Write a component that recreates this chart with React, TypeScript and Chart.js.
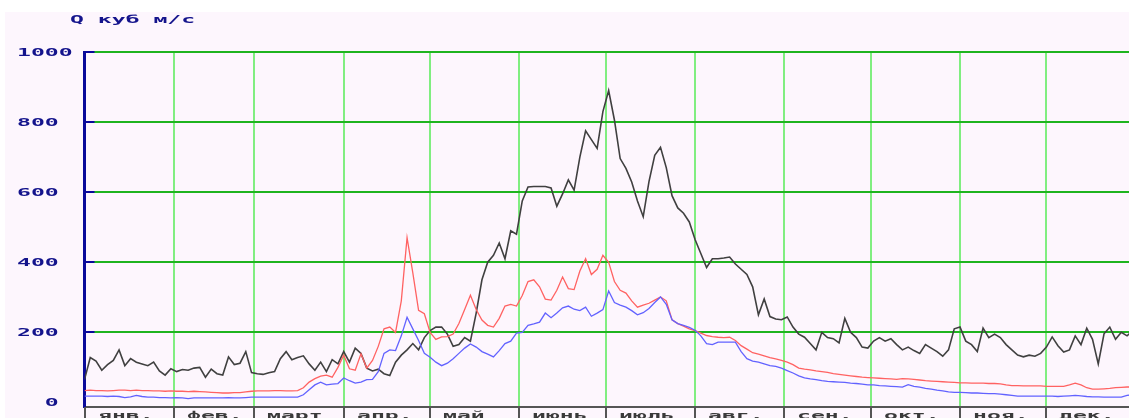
import React, { useEffect, useRef } from "react";
import { Chart, registerables } from "chart.js";

Chart.register(...registerables);

// ---- data ----
const Y_TITLE = "Q куб м/с";
const MONTH_LABELS = ["янв.", "фев.", "март", "апр.", "май", "июнь", "июль", "авг.", "сен.", "окт.", "ноя.", "дек."];
const MONTH_STARTS = [0, 31, 59, 90, 120, 151, 181, 212, 243, 273, 304, 334, 365];
const Y_TICKS = [0, 200, 400, 600, 800, 1000];

// day of year for each sample (every second day)
const DAYS: number[] = Array.from({ length: 183 }, (_, i) => i * 2);

const BLACK = [
  65, 128, 118, 92, 108, 120, 150, 105, 125, 115,
  110, 105, 115, 90, 78, 96, 88, 94, 92, 98,
  100, 72, 95, 82, 78, 130, 108, 112, 145, 85,
  82, 80, 85, 88, 125, 145, 122, 128, 133, 110,
  92, 115, 88, 122, 110, 145, 115, 155, 140, 98,
  90, 95, 82, 77, 115, 135, 150, 168, 150, 185,
  205, 215, 215, 195, 160, 165, 185, 175, 255, 350,
  400, 420, 455, 410, 490, 480, 575, 615, 616, 616,
  616, 612, 560, 595, 635, 606, 700, 775, 750, 725,
  830, 890, 806, 696, 668, 629, 575, 530, 630, 705,
  728, 670, 590, 555, 540, 515, 465, 425, 385, 410,
  410, 412, 415, 395, 380, 365, 330, 250, 295, 245,
  238, 236, 244, 215, 195, 186, 168, 150, 200, 185,
  182, 170, 240, 200, 185, 158, 155, 175, 185, 175,
  182, 165, 150, 158, 148, 140, 165, 155, 145, 132,
  150, 210, 215, 175, 165, 145, 212, 185, 195, 185,
  165, 150, 135, 130, 135, 132, 140, 158, 187, 162,
  144, 150, 190, 165, 212, 180, 110, 196, 215, 180,
  200, 190, 205,
];

const RED = [
  34, 35, 34, 34, 33, 34, 35, 35, 34, 35,
  34, 34, 33, 33, 32, 33, 32, 32, 31, 32,
  31, 30, 29, 28, 27, 27, 28, 28, 30, 32,
  33, 33, 33, 34, 34, 33, 33, 34, 42, 58,
  68, 75, 78, 72, 100, 135, 96, 92, 139, 98,
  120, 160, 210, 215, 200, 290, 470, 370, 263, 253,
  200, 180, 187, 188, 195, 225, 265, 306, 265, 235,
  220, 215, 240, 275, 280, 275, 305, 345, 350, 330,
  295, 292, 320, 358, 325, 322, 375, 410, 365, 380,
  420, 400, 345, 320, 312, 290, 272, 278, 283, 292,
  301, 290, 236, 225, 218, 210, 205, 198, 191, 188,
  186, 185, 186, 177, 162, 152, 142, 138, 133, 128,
  124, 120, 115, 108, 98, 95, 93, 90, 88, 86,
  82, 80, 78, 76, 74, 72, 71, 70, 69, 68,
  67, 66, 68, 67, 66, 64, 62, 61, 60, 59,
  58, 57, 56, 56, 55, 55, 55, 54, 54, 53,
  50, 48, 48, 47, 47, 47, 47, 46, 46, 46,
  46, 50, 55, 50, 42, 38, 38, 39, 40, 42,
  43, 44, 44,
];

const BLUE = [
  18, 18, 18, 18, 17, 18, 17, 14, 16, 20,
  17, 15, 15, 14, 14, 13, 14, 13, 11, 13,
  13, 13, 13, 13, 13, 14, 13, 13, 14, 15,
  15, 15, 15, 15, 15, 15, 15, 15, 22, 36,
  50, 58, 50, 52, 54, 70, 62, 55, 58, 65,
  66, 88, 140, 150, 148, 190, 243, 210, 177, 140,
  129, 115, 105, 112, 125, 140, 155, 167, 158, 145,
  138, 130, 148, 168, 175, 198, 200, 220, 224, 229,
  255, 242, 255, 270, 275, 266, 262, 272, 246, 255,
  265, 318, 285, 278, 272, 262, 250, 256, 268, 285,
  301, 280, 236, 225, 220, 214, 206, 190, 168, 165,
  172, 172, 172, 172, 145, 125, 118, 115, 110, 105,
  103, 98, 91, 84, 76, 70, 67, 65, 62, 60,
  59, 58, 57, 55, 54, 52, 50, 50, 48, 47,
  46, 45, 44, 51, 46, 44, 40, 38, 35, 33,
  30, 29, 29, 28, 27, 27, 26, 25, 25, 24,
  22, 20, 18, 18, 18, 18, 18, 18, 18, 17,
  18, 19, 20, 19, 17, 16, 16, 15, 15, 15,
  15, 20, 22,
];

// ---- styles ----
const PINK = "#fdf6fd";
const AXIS_BLUE = "#0a0a9a";
const LABEL_BLUE = "#14148c";
const H_GRID = "#1fb41f";
const V_GRID = "#80ee80";
const GREY = "#555555";
const FONT = 'bold 11px "DejaVu Sans Mono"';
const SX = 2.1;

function drawStretched(ctx: CanvasRenderingContext2D, text: string, x: number, y: number, color: string) {
  ctx.save();
  ctx.font = FONT;
  ctx.fillStyle = color;
  ctx.textBaseline = "alphabetic";
  ctx.textAlign = "left";
  ctx.translate(x, y);
  ctx.scale(SX, 1);
  ctx.fillText(text, 0, 0);
  ctx.restore();
}

const decor = {
  id: "decor",
  beforeDraw(chart: any) {
    const ctx = chart.ctx as CanvasRenderingContext2D;
    ctx.save();
    ctx.fillStyle = "#ffffff";
    ctx.fillRect(0, 0, chart.width, chart.height);
    ctx.fillStyle = PINK;
    ctx.fillRect(5, 12, chart.width - 5, chart.height - 12);
    ctx.restore();
  },
  afterDraw(chart: any) {
    const ctx = chart.ctx as CanvasRenderingContext2D;
    const area = chart.chartArea;
    const x = chart.scales.x;
    const y = chart.scales.y;
    ctx.save();
    // blue tick stubs
    ctx.strokeStyle = AXIS_BLUE;
    ctx.lineWidth = 2;
    for (const v of Y_TICKS) {
      if (v === 0) continue;
      const py = Math.round(y.getPixelForValue(v));
      ctx.beginPath();
      ctx.moveTo(area.left, py);
      ctx.lineTo(area.left + 10, py);
      ctx.stroke();
    }
    // y tick labels
    for (const v of Y_TICKS) {
      const py = y.getPixelForValue(v);
      drawStretched(ctx, String(v).padStart(3, " "), 17, py + 4, LABEL_BLUE);
    }
    // title
    drawStretched(ctx, Y_TITLE, 70, 23, LABEL_BLUE);
    // month separators and labels
    ctx.strokeStyle = GREY;
    ctx.lineWidth = 2;
    for (let i = 0; i < MONTH_LABELS.length; i++) {
      const px = Math.round(x.getPixelForValue(MONTH_STARTS[i]));
      ctx.beginPath();
      ctx.moveTo(px, area.bottom);
      ctx.lineTo(px, chart.height);
      ctx.stroke();
      drawStretched(ctx, MONTH_LABELS[i], px + 13, 419, "#3a3a3a");
    }
    ctx.restore();
  },
};

export default function App() {
  const ref = useRef<HTMLCanvasElement | null>(null);
  useEffect(() => {
    if (!ref.current) return;
    const mk = (vals: number[]) => DAYS.map((d, i) => ({ x: d, y: vals[i] }));
    const chart = new Chart(ref.current, {
      type: "line",
      data: {
        datasets: [
          { label: "blue", data: mk(BLUE), borderColor: "#6262ff", borderWidth: 1.3, pointRadius: 0, tension: 0 },
          { label: "red", data: mk(RED), borderColor: "#ff6262", borderWidth: 1.3, pointRadius: 0, tension: 0 },
          { label: "black", data: mk(BLACK), borderColor: "#404040", borderWidth: 1.6, pointRadius: 0, tension: 0 },
        ],
      },
      options: {
        responsive: false,
        animation: false,
        events: [],
        layout: { padding: { left: 84.5, top: 52, right: 4.3, bottom: 11 } },
        plugins: { legend: { display: false }, tooltip: { enabled: false } },
        scales: {
          x: {
            type: "linear",
            min: 0,
            max: 365,
            afterBuildTicks: (s: any) => {
              s.ticks = MONTH_STARTS.map((v) => ({ value: v }));
            },
            ticks: { display: false },
            grid: {
              drawTicks: false,
              lineWidth: 2,
              color: (c: any) => (c.tick && (c.tick.value === 0 || c.tick.value === 365) ? "rgba(0,0,0,0)" : V_GRID),
            },
            border: { display: true, color: GREY, width: 2 },
          },
          y: {
            type: "linear",
            min: -13,
            max: 1000,
            afterBuildTicks: (s: any) => {
              s.ticks = Y_TICKS.map((v) => ({ value: v }));
            },
            ticks: { display: false },
            grid: {
              drawTicks: false,
              lineWidth: 2,
              color: (c: any) => (c.tick && c.tick.value === 0 ? "rgba(0,0,0,0)" : H_GRID),
            },
            border: { display: true, color: AXIS_BLUE, width: 3 },
          },
        },
      },
      plugins: [decor],
    });
    return () => chart.destroy();
  }, []);
  return (
    <div style={{ position: "fixed", left: 0, top: 0, width: 1129, height: 418, overflow: "hidden" }}>
      <canvas ref={ref} width={1140} height={418} style={{ display: "block" }} />
    </div>
  );
}
